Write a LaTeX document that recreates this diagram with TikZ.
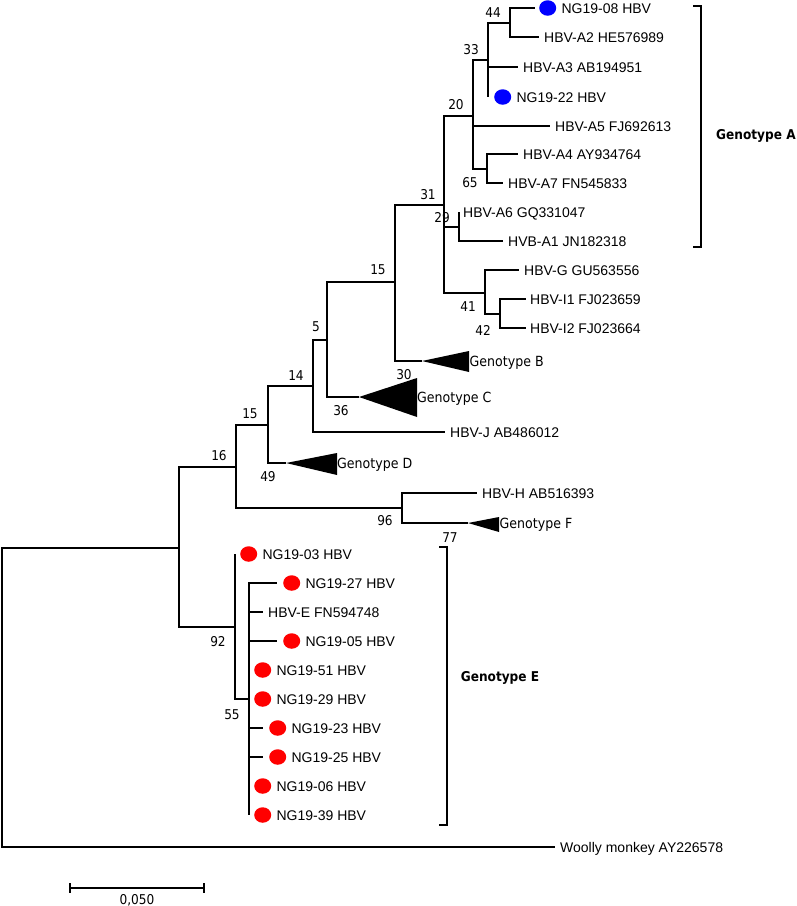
\documentclass[tikz,border=0pt]{standalone}
\usepackage{fontspec}
\setmainfont{Liberation Sans}
\newfontfamily\numfont{DejaVu Sans Condensed}
\usetikzlibrary{shapes}
\usetikzlibrary{positioning}
\usetikzlibrary{scopes}

\tikzset{
        branch/.style={line width=1.7pt},
        leaf/.style={inner sep=0pt, font=\fontsize{14}{16}\selectfont, text height=10pt, text depth=0pt},
        boot/.style={inner sep=0pt, font=\numfont\fontsize{13.5}{15}\selectfont},
        clade/.style={inner sep=0pt, font=\numfont\fontsize{14}{16}\selectfont, text height=10.2pt, text depth=0pt},
        genolab/.style={inner sep=0pt, font=\numfont\bfseries\fontsize{13.5}{16}\selectfont},
        sample/.style={ellipse, inner sep=0pt, minimum width=17pt, minimum height=15.5pt},
        reddot/.style={sample, fill=red},
        bluedot/.style={sample, fill=blue},
}

\begin{document}
\begin{tikzpicture}[x=1pt, y=-1pt]
        \useasboundingbox (0,0) rectangle (797,906);

        % internal nodes
        \coordinate (root) at (2,697);
        \coordinate (nin) at (179,548);
        \coordinate (n16) at (236,467);
        \coordinate (n92) at (235,627);
        \coordinate (n15a) at (268,425);
        \coordinate (n96) at (402,508);
        \coordinate (n14) at (313,386);
        \coordinate (n5) at (327,340);
        \coordinate (n15b) at (395,282);
        \coordinate (n31) at (444,205);
        \coordinate (n20) at (473,116);
        \coordinate (n29) at (459,227);
        \coordinate (n41) at (485,293);
        \coordinate (n33) at (488,60);
        \coordinate (n65) at (487,169);
        \coordinate (n44) at (510,23);
        \coordinate (n42) at (500,314);
        \coordinate (n55) at (249,699);

        % leaf ends and collapsed clades
        \coordinate (lWM) at (555,847);
        \coordinate (lJ) at (445,432);
        \coordinate (lA5) at (550,126);
        \coordinate (lA3) at (518,67);
        \coordinate (l22) at (488,97);
        \coordinate (l08) at (535,8);
        \coordinate (lA2) at (539,37);
        \coordinate (lA4) at (518,154);
        \coordinate (lA7) at (503,183);
        \coordinate (lA6) at (459,212);
        \coordinate (lA1) at (503,241);
        \coordinate (lG) at (519,270);
        \coordinate (lI1) at (526,299);
        \coordinate (lI2) at (526,328);
        \coordinate (lH) at (477,493);
        \coordinate (l03) at (235,554);
        \coordinate (l27) at (277,583);
        \coordinate (lE) at (263,612);
        \coordinate (l05) at (277,641);
        \coordinate (l51) at (249,670);
        \coordinate (l29) at (249,699);
        \coordinate (l23) at (263,728);
        \coordinate (l25) at (263,757);
        \coordinate (l06) at (249,786);
        \coordinate (l39) at (249,815);
        \coordinate (cB) at (422,361);
        \coordinate (cC) at (359,397);
        \coordinate (cD) at (286,463);
        \coordinate (cF) at (468,523);

        % branches
        \foreach \p/\c in {root/nin, root/lWM, nin/n16, nin/n92, n16/n15a, n16/n96,
                n15a/n14, n15a/cD, n14/n5, n14/lJ, n5/n15b, n5/cC, n15b/n31, n15b/cB,
                n31/n20, n31/n29, n31/n41, n20/n33, n20/lA5, n20/n65, n33/n44, n33/lA3,
                n33/l22, n44/l08, n44/lA2, n65/lA4, n65/lA7, n29/lA6, n29/lA1, n41/lG,
                n41/n42, n42/lI1, n42/lI2, n96/lH, n96/cF, n92/l03, n92/n55,
                n55/l27, n55/lE, n55/l05, n55/l51, n55/l29, n55/l23, n55/l25, n55/l06, n55/l39}
                \draw[branch] (\p) |- (\c);

        % collapsed clades
        \fill (cB) -- ++(47,-10) -- ++(0,21) -- cycle;
        \fill (cC) -- ++(58,-19) -- ++(0,39) -- cycle;
        \fill (cD) -- ++(51,-10) -- ++(0,22) -- cycle;
        \fill (cF) -- ++(31,-6) -- ++(0,15) -- cycle;
        \node[clade, right=47.5pt of cB] (tB) {Genotype B};
        \node[clade, right=58pt of cC] (tC) {Genotype C};
        \node[clade, right=51pt of cD] (tD) {Genotype D};
        \node[clade, right=31.5pt of cF] (tF) {Genotype F};

        % plain leaves
        \node[leaf, right=5pt of lA2] (tA2) {HBV-A2 HE576989};
        \node[leaf, right=5pt of lA3] (tA3) {HBV-A3 AB194951};
        \node[leaf, right=5pt of lA5] (tA5) {HBV-A5 FJ692613};
        \node[leaf, right=5pt of lA4] (tA4) {HBV-A4 AY934764};
        \node[leaf, right=5pt of lA7] (tA7) {HBV-A7 FN545833};
        \node[leaf, right=4pt of lA6] (tA6) {HBV-A6 GQ331047};
        \node[leaf, right=5pt of lA1] (tA1) {HVB-A1 JN182318};
        \node[leaf, right=5pt of lG] (tG) {HBV-G GU563556};
        \node[leaf, right=4pt of lI1] (tI1) {HBV-I1 FJ023659};
        \node[leaf, right=4pt of lI2] (tI2) {HBV-I2 FJ023664};
        \node[leaf, right=5pt of lJ] (tJ) {HBV-J AB486012};
        \node[leaf, right=5pt of lH] (tH) {HBV-H AB516393};
        \node[leaf, right=5pt of lE] (tE) {HBV-E FN594748};
        \node[leaf, right=5pt of lWM] (tWM) {Woolly monkey AY226578};

        % samples of this study
        { [every node/.append style={leaf}]
                \node[bluedot, right=4pt of l08] (d08) {};
                \node[right=5pt of d08] {NG19-08 HBV};
                \node[bluedot, right=6pt of l22] (d22) {};
                \node[right=5pt of d22] {NG19-22 HBV};
        }
        \foreach \s/\g in {03/5, 27/6, 05/6, 51/5, 29/5, 23/6, 25/6, 06/5, 39/5} {
                \node[reddot, right=\g pt of l\s] (d\s) {};
                \node[leaf, right=5pt of d\s] (t\s) {NG19-\s\ HBV};
        }

        % bootstrap values
        \foreach \v/\x/\y in {44/493/13, 33/471/50, 20/456/105, 65/470/183, 31/428/195,
                29/442/218, 41/468/307, 42/483/330, 15/378/270, 5/316/327, 14/296/376,
                30/404/375, 36/341/411, 15/250/414, 16/219/456, 49/268/477, 96/385/521,
                77/450/538, 92/218/642, 55/232/715}
                \node[boot] at (\x,\y) {\v};

        % genotype brackets
        \draw[line width=1.4pt] (693,6) -- (701,6) -- (701,247) -- (693,247);
        \node[genolab, anchor=west] (gA) at (716,136) {Genotype A};
        \draw[line width=1.4pt] (439,547) -- (447,547) -- (447,825) -- (439,825);
        \node[genolab] (gE) at (500,678) {Genotype E};

        % scale bar
        \draw[line width=1.4pt] (70,883) -- (70,893) (70,888) -- (204,888) (204,883) -- (204,893);
        \node[boot] (sc) at (137,900) {0,050};
\end{tikzpicture}
\end{document}
